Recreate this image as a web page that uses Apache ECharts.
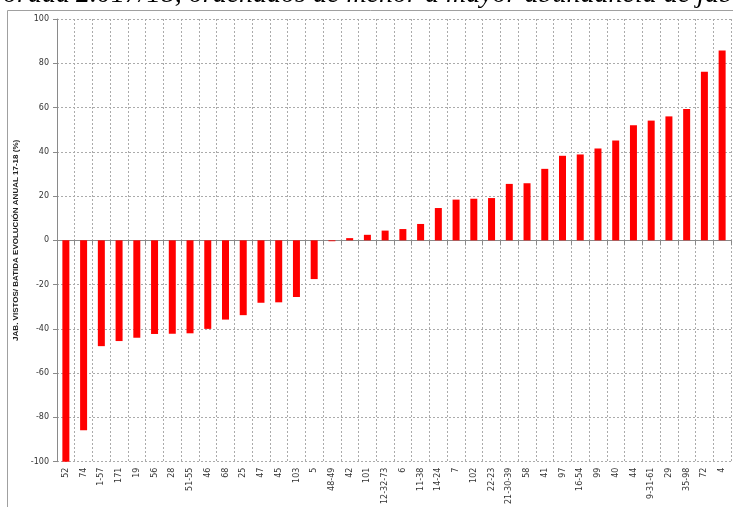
<!DOCTYPE html>
<html>
<head>
<meta charset="utf-8">
<script src="https://cdn.jsdelivr.net/npm/echarts@6/dist/echarts.min.js"></script>
<style>
  html, body { margin: 0; padding: 0; background: #fff; }
  #chart { width: 733px; height: 507px; }
</style>
</head>
<body>
<div id="chart"></div>
<script>
// cuarteles ordenados de menor a mayor evolución
var cuarteles = ['52', '74', '1-57', '171', '19', '56', '28', '51-55', '46', '68', '25', '47', '45', '103', '5',
  '48-49', '42', '101', '12-32-73', '6', '11-38', '14-24', '7', '102', '22-23', '21-30-39', '58', '41', '97',
  '16-54', '99', '40', '44', '9-31-61', '29', '35-98', '72', '4']
// evolución anual 17-18 (%)
var evolucion = [-100, -85.8, -47.8, -45.5, -44, -42.3, -42.2, -42, -40, -35.8, -33.8, -28.2, -28, -25.6, -17.5,
  -0.4, 1, 2.5, 4.4, 5.1, 7.4, 14.6, 18.4, 18.8, 19.1, 25.5, 25.8, 32.3, 38.2, 38.8, 41.5, 45.1, 52, 54.1,
  56, 59.3, 76.2, 85.8]

var chart = echarts.init(document.getElementById('chart'))

var gridDash = { color: '#ababab', type: [2, 2], width: 1 }
var axisGray = '#8a8a8a'
var titleFont = 'italic 28px "Liberation Serif", "DejaVu Serif", serif'

chart.setOption({
  animation: false,
  graphic: [
    {
      type: 'rect',
      shape: { x: 7.5, y: 10.5, width: 800, height: 600 },
      style: { fill: 'none', stroke: '#a0a0a0', lineWidth: 1 }
    },
    {
      type: 'text',
      x: 70, y: -5,
      style: { text: 'Temporada', font: titleFont, fill: '#000', align: 'right', verticalAlign: 'middle' }
    },
    {
      type: 'text',
      x: 76, y: -5,
      style: { text: '2.017/18, ordenados de menor a mayor abundancia de jabalí', font: titleFont, fill: '#000', align: 'left', verticalAlign: 'middle' }
    }
  ],
  grid: { left: 57, top: 19, right: 2, bottom: 43 },
  xAxis: [
    {
      type: 'category',
      data: cuarteles,
      axisLine: { show: false, onZero: false },
      axisTick: { show: false },
      axisLabel: {
        interval: 0,
        rotate: 90,
        margin: 6,
        fontSize: 8,
        fontFamily: 'DejaVu Sans',
        color: '#333'
      },
      splitLine: { show: true, interval: 0, lineStyle: gridDash }
    },
    {
      type: 'category',
      data: cuarteles,
      position: 'bottom',
      axisLine: { show: true, onZero: true, lineStyle: { color: axisGray, width: 1 } },
      axisTick: { show: true, interval: 0, length: 5, lineStyle: { color: axisGray } },
      axisLabel: { show: false },
      splitLine: { show: false }
    }
  ],
  yAxis: {
    type: 'value',
    min: -100,
    max: 100,
    interval: 20,
    name: 'JAB. VISTOS/ BATIDA EVOLUCIÓN ANUAL 17-18 (%)',
    nameLocation: 'middle',
    nameRotate: 90,
    nameGap: 31,
    nameTextStyle: {
      fontSize: 8,
      fontWeight: 'bold',
      fontFamily: 'Liberation Sans',
      color: '#222'
    },
    axisLine: { show: true, lineStyle: { color: axisGray, width: 1 } },
    axisTick: { show: true, length: 4, lineStyle: { color: axisGray } },
    axisLabel: {
      margin: 8,
      fontSize: 8,
      fontFamily: 'DejaVu Sans',
      color: '#333'
    },
    splitLine: { show: true, lineStyle: gridDash }
  },
  series: [
    {
      type: 'bar',
      xAxisIndex: 0,
      data: evolucion,
      barWidth: 7,
      itemStyle: { color: '#ff0000' }
    }
  ]
})
</script>
</body>
</html>
